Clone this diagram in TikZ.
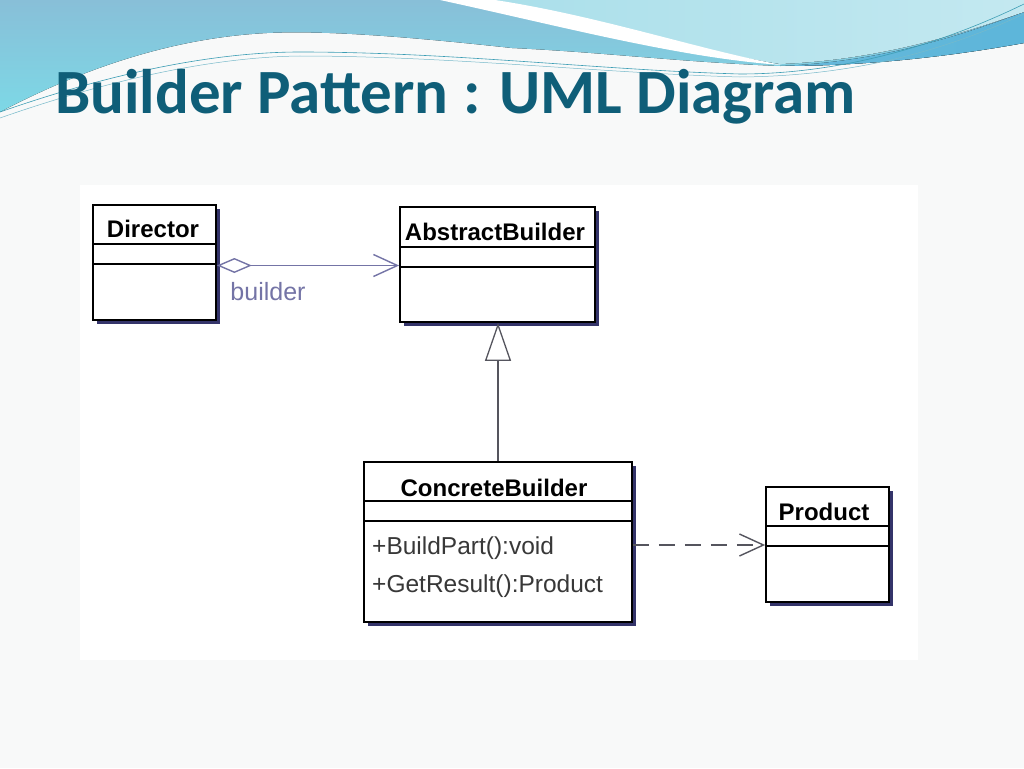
\documentclass[tikz,border=0pt]{standalone}
\usepackage{fontspec}
\setmainfont{Liberation Sans}
\newfontfamily\titlefont{Carlito}
\usetikzlibrary{arrows.meta, calc, positioning, shadows}

\definecolor{slidebg}{HTML}{F8F9F9}
\definecolor{titleblue}{HTML}{0F5E78}
\definecolor{wavetop}{HTML}{88BFD8}
\definecolor{wavelow}{HTML}{7DD8E6}
\definecolor{wavelight}{HTML}{AADFEA}
\definecolor{waveband}{HTML}{5DB6DA}
\definecolor{waveline}{HTML}{3C9DB4}
\definecolor{shadownavy}{HTML}{34346A}
\definecolor{assoccol}{HTML}{7474A6}
\definecolor{linkgrey}{HTML}{55555E}

\begin{document}
\begin{tikzpicture}[
      x=1pt, y=-1pt,
      classbox/.style={draw, line width=1.8pt, fill=white, inner sep=0pt,
        drop shadow={shadow xshift=4pt, shadow yshift=-4pt, fill=shadownavy, opacity=1}},
      classname/.style={font=\fontsize{24}{26}\selectfont\bfseries, inner sep=0pt},
      member/.style={font=\fontsize{24.5}{27}\selectfont, text=black!78, inner sep=0pt, anchor=west},
      sepline/.style={line width=1.5pt},
      aggr/.style={assoccol, line width=1.4pt,
        {Diamond[open, length=35pt, width=15pt]}-{Straight Barb[length=24pt, width=22pt]}},
      inherit/.style={linkgrey, line width=1.3pt, -{Triangle[open, length=38pt, width=26pt]}},
      depend/.style={linkgrey, line width=1.4pt, dash pattern=on 16pt off 10pt,
        -{Straight Barb[length=24pt, width=22pt]}},
      rolelabel/.style={font=\fontsize{25}{27}\selectfont, text=assoccol, inner sep=0pt}
    ]

    % slide background and header wave
    \useasboundingbox (0,0) rectangle (1024,768);
    \fill[slidebg] (0,0) rectangle (1024,768);
    \fill[top color=wavetop, bottom color=wavelow] (0,0) -- (1024,0) -- (1024,43)
      .. controls (930,60) and (850,66) .. (780,66)
      .. controls (680,62) and (600,52) .. (512,48)
      .. controls (420,38) and (330,30) .. (267,33)
      .. controls (170,38) and (80,70) .. (0,112) -- cycle;
    \fill[left color=waveband!80!wavetop, right color=waveband] (780,66)
      .. controls (880,62) and (960,36) .. (1024,12) -- (1024,43)
      .. controls (930,60) and (850,66) .. (780,66) -- cycle;
    \fill[left color=wavelight, right color=wavelight!70!white] (490,0)
      .. controls (600,18) and (700,52) .. (780,64)
      .. controls (880,60) and (960,34) .. (1024,12) -- (1024,0) -- cycle;
    \fill[white] (440,0) .. controls (560,26) and (680,58) .. (782,65)
      .. controls (700,50) and (600,16) .. (495,0) -- cycle;
    \draw[waveline, line width=0.6pt] (0,112) .. controls (120,70) and (220,52) .. (300,52)
      .. controls (450,52) and (600,70) .. (740,74) .. controls (850,74) and (950,40) .. (1024,4);
    \draw[waveline!70, line width=0.5pt] (0,118) .. controls (120,76) and (220,57) .. (300,56)
      .. controls (450,56) and (600,73) .. (740,77) .. controls (860,76) and (950,48) .. (1024,14);

    \node[font=\titlefont\fontsize{63}{70}\selectfont\bfseries, text=titleblue, anchor=base west, inner sep=0pt]
      (title) at (55,113) {Builder Pattern : UML Diagram};

    % diagram panel
    \fill[white] (80,185) rectangle (918,660);

    % classes
    \node[classbox, minimum width=123pt, minimum height=115pt] (dir) at (154.5,262.5) {};
    \node[classname] (dirname) at (153,229) {Director};
    \draw[sepline] ($(dir.north west)+(0,40)$) -- ($(dir.north east)+(0,40)$);
    \draw[sepline] ($(dir.north west)+(0,60)$) -- ($(dir.north east)+(0,60)$);

    \node[classbox, minimum width=195pt, minimum height=115pt] (ab) at (497.5,264.5) {};
    \node[classname] (abname) at (495,232) {AbstractBuilder};
    \draw[sepline] ($(ab.north west)+(0,41)$) -- ($(ab.north east)+(0,41)$);
    \draw[sepline] ($(ab.north west)+(0,61)$) -- ($(ab.north east)+(0,61)$);

    \node[classbox, minimum width=268pt, minimum height=160pt] (cb) at (498,542) {};
    \node[classname] (cbname) at (494,488) {ConcreteBuilder};
    \draw[sepline] ($(cb.north west)+(0,40)$) -- ($(cb.north east)+(0,40)$);
    \draw[sepline] ($(cb.north west)+(0,60)$) -- ($(cb.north east)+(0,60)$);
    \node[member] (buildpart) at (372,548) {+BuildPart():void};
    \node[member] (getresult) at (372,586) {+GetResult():Product};

    \node[classbox, minimum width=123pt, minimum height=115pt] (prod) at (827.5,544.5) {};
    \node[classname] (prodname) at (824,512) {Product};
    \draw[sepline] ($(prod.north west)+(0,40)$) -- ($(prod.north east)+(0,40)$);
    \draw[sepline] ($(prod.north west)+(0,60)$) -- ($(prod.north east)+(0,60)$);

    % relations
    \draw[aggr] ([yshift=-3pt]dir.east) -- ([yshift=-3pt]dir.east -| ab.west);
    \node[rolelabel] (role) at (268,292) {builder};
    \draw[inherit] (cb.north) -- (cb.north |- ab.south);
    \draw[depend] ([yshift=-3pt]cb.east) -- ([yshift=-3pt]cb.east -| prod.west);

\end{tikzpicture}
\end{document}
